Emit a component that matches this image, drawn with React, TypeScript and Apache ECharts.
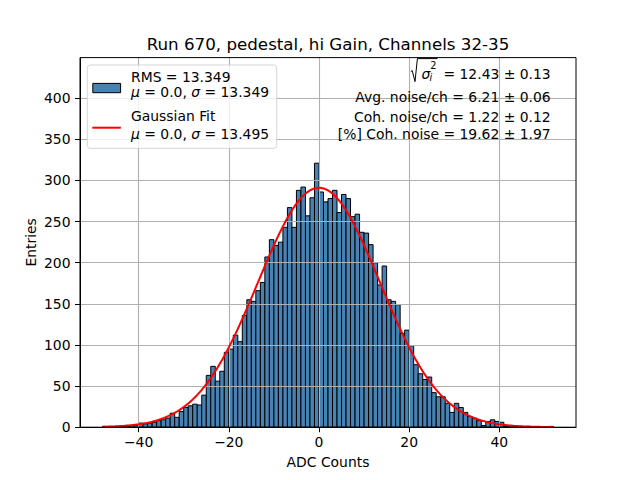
import React, { useEffect, useRef } from 'react';
import * as echarts from 'echarts';

// ---- data ----
const binStart = -48;
const binWidth = 1;
const counts = [
  1, 0, 0, 1, 1, 1, 2, 2, // -48 .. -41
  5, 4, 5, 6, 8, 9, 11, 17, 12, 19, // -40 .. -31
  24, 26, 28, 27, 39, 63, 74, 56, 68, 91, // -30 .. -21
  95, 112, 104, 136, 155, 153, 166, 176, 207, 228, // -20 .. -11
  221, 225, 243, 267, 243, 288, 292, 257, 279, 321, // -10 .. -1
  286, 274, 278, 288, 261, 283, 278, 256, 259, 237, // 0 .. 9
  236, 222, 200, 173, 196, 155, 153, 149, 114, 118, // 10 .. 19
  99, 76, 65, 58, 61, 42, 37, 37, 29, 18, // 20 .. 29
  29, 24, 18, 13, 11, 8, 2, 7, 9, 7, // 30 .. 39
  6, 1, 2, 1, 1, 0, 1, 0, 0, 0, 0, 1, // 40 .. 51
];
const xTicks = [-40, -20, 0, 20, 40];
const yTicks = [0, 50, 100, 150, 200, 250, 300, 350, 400];
const fitMu = 0.0;
const fitSigma = 13.495;
const fitRange = [-48, 52];

const titleText = 'Run 670, pedestal, hi Gain, Channels 32-35';
const xLabel = 'ADC Counts';
const yLabel = 'Entries';
const legendRms = 'RMS = 13.349';
const legendRmsParams = '{i|μ} = 0.0, {i|σ} = 13.349';
const legendFit = 'Gaussian Fit';
const legendFitParams = '{i|μ} = 0.0, {i|σ} = 13.495';
const statSqrtValue = '= 12.43 ± 0.13';
const statLines = [
  'Avg. noise/ch = 6.21 ± 0.06',
  'Coh. noise/ch = 1.22 ± 0.12',
  '[%] Coh. noise = 19.62 ± 1.97',
];

// ---- layout ----
const W = 640;
const H = 480;
const G = { left: 80, top: 57.6, width: 496, height: 369.6 };
const FONT = 'DejaVu Sans';
const FS = 13.9;
const BAR_COLOR = '#4682b4';

export default function App() {
  const ref = useRef<HTMLDivElement>(null);

  useEffect(() => {
    if (!ref.current) return;
    const chart = echarts.init(ref.current, undefined, { renderer: 'svg' });

    const histData = counts.map((c, i) => [
      binStart + i * binWidth,
      binStart + (i + 1) * binWidth,
      c,
    ]);
    const total = counts.reduce((a, b) => a + b, 0);
    const amp = (total * binWidth) / (fitSigma * Math.sqrt(2 * Math.PI));
    const fitData: number[][] = [];
    const nFit = 400;
    for (let j = 0; j <= nFit; j++) {
      const x = fitRange[0] + ((fitRange[1] - fitRange[0]) * j) / nFit;
      fitData.push([x, amp * Math.exp(-((x - fitMu) ** 2) / (2 * fitSigma * fitSigma))]);
    }

    const dataMin = fitRange[0];
    const dataMax = fitRange[1];
    const span = dataMax - dataMin;
    const yMax = Math.max(...counts) * 1.4;

    const txt = (text: string, x: number, y: number, extra: any = {}) => ({
      type: 'text',
      x,
      y,
      z: 20,
      silent: true,
      style: {
        text,
        fontFamily: FONT,
        fontSize: FS,
        fill: '#000',
        align: 'left',
        verticalAlign: 'middle',
        ...extra,
      },
    });
    const richItalic = {
      i: { fontFamily: FONT, fontSize: FS, fontStyle: 'italic', fill: '#000' },
    };

    const statRight = 550.7;

    chart.setOption({
      animation: false,
      backgroundColor: '#fff',
      textStyle: { fontFamily: FONT },
      grid: {
        left: G.left,
        top: G.top,
        width: G.width,
        height: G.height,
        containLabel: false,
      },
      xAxis: {
        type: 'value',
        min: dataMin - 0.05 * span,
        max: dataMax + 0.05 * span,
        z: 3,
        axisLine: { show: true, onZero: false, lineStyle: { color: '#000', width: 1 } },
        axisTick: { show: true, length: 5, customValues: xTicks, lineStyle: { color: '#000', width: 1 } },
        axisLabel: {
          customValues: xTicks,
          color: '#000',
          fontSize: FS,
          fontFamily: FONT,
          margin: 8,
          formatter: (v: number) => (v < 0 ? '\u2212' + Math.abs(v) : String(v)),
        },
        splitLine: { show: true, lineStyle: { color: '#b0b0b0', width: 1.1 } },
      },
      yAxis: {
        type: 'value',
        min: 0,
        max: yMax,
        interval: 50,
        z: 3,
        axisLine: { show: true, onZero: false, lineStyle: { color: '#000', width: 1 } },
        axisTick: { show: true, length: 5, customValues: yTicks, lineStyle: { color: '#000', width: 1 } },
        axisLabel: {
          customValues: yTicks,
          color: '#000',
          fontSize: FS,
          fontFamily: FONT,
          margin: 9.5,
        },
        splitLine: { show: true, lineStyle: { color: '#b0b0b0', width: 1.1 } },
      },
      series: [
        {
          type: 'custom',
          name: 'RMS',
          z: 2,
          data: histData,
          encode: { x: [0, 1], y: 2 },
          renderItem: (params: any, api: any) => {
            const x0 = api.value(0);
            const x1 = api.value(1);
            const v = api.value(2);
            if (!v) return null;
            const p0 = api.coord([x0, 0]);
            const p1 = api.coord([x1, v]);
            return {
              type: 'rect',
              shape: { x: p0[0], y: p1[1], width: p1[0] - p0[0], height: p0[1] - p1[1] },
              style: { fill: BAR_COLOR, stroke: '#000', lineWidth: 1 },
            };
          },
        },
        {
          type: 'line',
          name: 'Gaussian Fit',
          z: 4,
          data: fitData,
          showSymbol: false,
          symbol: 'none',
          smooth: false,
          lineStyle: { color: '#ff0000', width: 2 },
        },
      ],
      graphic: [
        // axes frame
        {
          type: 'rect',
          z: 15,
          silent: true,
          shape: { x: G.left, y: G.top, width: G.width, height: G.height },
          style: { fill: 'transparent', stroke: '#000', lineWidth: 1 },
        },
        txt(titleText, G.left + G.width / 2, 43.6, { fontSize: 16.7, align: 'center' }),
        txt(xLabel, G.left + G.width / 2, 461.5, { align: 'center' }),
        {
          ...txt(yLabel, 30.5, G.top + G.height / 2, { align: 'center' }),
          rotation: Math.PI / 2,
        },
        // legend frame
        {
          type: 'rect',
          z: 16,
          silent: true,
          shape: { x: 87.3, y: 65, width: 189.4, height: 83.3, r: 3 },
          style: { fill: 'rgba(255,255,255,0.8)', stroke: 'rgba(204,204,204,0.8)', lineWidth: 1 },
        },
        {
          type: 'rect',
          z: 20,
          silent: true,
          shape: { x: 92.8, y: 83.4, width: 27.8, height: 9.3 },
          style: { fill: BAR_COLOR, stroke: '#000', lineWidth: 1 },
        },
        {
          type: 'line',
          z: 20,
          silent: true,
          shape: { x1: 92.3, y1: 127.7, x2: 120.8, y2: 127.7 },
          style: { stroke: '#ff0000', lineWidth: 2 },
        },
        txt(legendRms, 131, 76.5),
        txt(legendRmsParams, 131, 92, { rich: richItalic }),
        txt(legendFit, 131, 116),
        txt(legendFitParams, 131, 133.5, { rich: richItalic }),
        // stats block
        {
          type: 'polyline',
          z: 20,
          silent: true,
          shape: {
            points: [
              [410.8, 71.5],
              [412.2, 70.6],
              [415, 81.6],
              [417.4, 58.6],
              [437.5, 58.6],
            ],
          },
          style: { stroke: '#000', lineWidth: 1, fill: null },
        },
        txt('σ', 421.4, 73.8, { fontStyle: 'italic' }),
        txt('i', 429.4, 77.5, { fontStyle: 'italic', fontSize: 9.7 }),
        txt('2', 430.2, 65.5, { fontSize: 9.7 }),
        txt(statSqrtValue, statRight, 73.5, { align: 'right' }),
        txt(statLines[0], statRight, 96.9, { align: 'right' }),
        txt(statLines[1], statRight, 116.5, { align: 'right' }),
        txt(statLines[2], statRight, 133.5, { align: 'right' }),
      ],
    });

    return () => chart.dispose();
  }, []);

  return (
    <div
      ref={ref}
      style={{ position: 'absolute', left: 0, top: 0, width: W, height: H, background: '#fff' }}
    />
  );
}
